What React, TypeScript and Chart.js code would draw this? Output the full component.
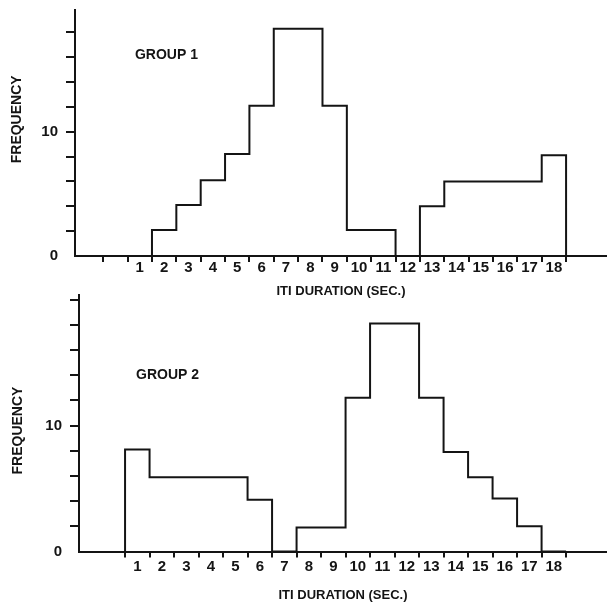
import React, { useEffect, useRef } from "react";
import { Chart, registerables } from "chart.js";

Chart.register(...registerables);

// ---- data ----
const binCenters = [1, 2, 3, 4, 5, 6, 7, 8, 9, 10, 11, 12, 13, 14, 15, 16, 17, 18];
const tickLabels = ["1", "2", "3", "4", "5", "6", "7", "8", "9", "10", "11", "12", "13", "14", "15", "16", "17", "18"];
const group1Freq = [0, 2.1, 4.1, 6.1, 8.2, 12.1, 18.3, 18.3, 12.1, 2.1, 2.1, 0, 4.0, 6.0, 6.0, 6.0, 6.0, 8.1];
const group2Freq = [8.1, 5.9, 5.9, 5.9, 5.9, 4.1, 0, 1.9, 1.9, 12.2, 18.1, 18.1, 12.2, 7.9, 5.9, 4.2, 2.0, 0];
const yLabeledTicks = [0, 10];
const yTickLabels = ["0", "10"];
const xTitle = "ITI DURATION (SEC.)";
const yTitle = "FREQUENCY";

const FONT = "'Liberation Sans', Arial, Helvetica, sans-serif";
const INK = "#141414";
const CLEAR = "rgba(0,0,0,0)";

function buildSteps(centers: number[], freq: number[]) {
  const pts: { x: number; y: number }[] = [];
  pts.push({ x: centers[0] - 0.5, y: 0 });
  centers.forEach((c, i) => pts.push({ x: c - 0.5, y: freq[i] }));
  pts.push({ x: centers[centers.length - 1] + 0.5, y: 0 });
  return pts;
}

interface Cfg {
  freq: number[];
  group: string;
  xMin: number;
  xMax: number;
  yMax: number;
  axisWidth: number;
  axisHeight: number;
  padTop: number;
  leadingTick: boolean;
  labelPad: number;
  titlePad: number;
  groupAt: [number, number];
  freqAtY: number;
  freqX: number;
}

function zeroPad(scale: any) {
  scale.paddingTop = 0;
  scale.paddingBottom = 0;
  scale.paddingLeft = 0;
  scale.paddingRight = 0;
}

function makeConfig(c: Cfg): any {
  const edges = binCenters.map((v) => v - 0.5).concat([binCenters[binCenters.length - 1] + 0.5]);
  if (c.leadingTick) edges.unshift(binCenters[0] - 1.5);
  const tickValues = edges.concat(binCenters).sort((a, b) => a - b);

  const annot = {
    id: "annot",
    afterDraw(chart: any) {
      const { ctx, scales } = chart;
      const x = scales.x;
      const y = scales.y;
      ctx.save();
      ctx.fillStyle = INK;
      ctx.font = `bold 14px ${FONT}`;
      ctx.textAlign = "left";
      ctx.textBaseline = "middle";
      ctx.fillText(c.group, x.getPixelForValue(c.groupAt[0]), y.getPixelForValue(c.groupAt[1]));
      ctx.translate(c.freqX, y.getPixelForValue(c.freqAtY));
      ctx.rotate(-Math.PI / 2);
      ctx.textAlign = "center";
      ctx.font = `bold 14px ${FONT}`;
      ctx.fillText(yTitle, 0, 0);
      ctx.restore();
    },
  };

  return {
    type: "line",
    data: {
      datasets: [
        {
          data: buildSteps(binCenters, c.freq),
          stepped: true,
          borderColor: INK,
          borderWidth: 2,
          pointRadius: 0,
          fill: false,
          tension: 0,
        },
      ],
    },
    options: {
      animation: false,
      responsive: false,
      devicePixelRatio: 1,
      layout: { padding: { top: c.padTop, left: 0, right: 0, bottom: 0 } },
      plugins: { legend: { display: false }, tooltip: { enabled: false } },
      scales: {
        x: {
          type: "linear",
          min: c.xMin,
          max: c.xMax,
          afterBuildTicks: (scale: any) => {
            scale.ticks = tickValues.map((v) => ({ value: v }));
          },
          afterFit: (scale: any) => {
            scale.height = c.axisHeight;
            zeroPad(scale);
          },
          grid: {
            drawOnChartArea: false,
            drawTicks: true,
            tickLength: 6,
            lineWidth: 2,
            tickWidth: 2,
            tickColor: (ctx: any) => (ctx.tick && Number.isInteger(ctx.tick.value) ? CLEAR : INK),
          },
          border: { display: true, color: INK, width: 2 },
          ticks: {
            autoSkip: false,
            maxRotation: 0,
            minRotation: 0,
            padding: c.labelPad,
            color: INK,
            font: { family: FONT, size: 15, weight: "bold" },
            callback: (value: number) => {
              const i = binCenters.indexOf(value);
              return i >= 0 ? tickLabels[i] : "";
            },
          },
          title: {
            display: true,
            text: xTitle,
            color: INK,
            font: { family: FONT, size: 13, weight: "bold" },
            padding: { top: 0, bottom: c.titlePad },
          },
        },
        y: {
          type: "linear",
          min: 0,
          max: c.yMax,
          afterFit: (scale: any) => {
            scale.width = c.axisWidth;
            zeroPad(scale);
          },
          grid: {
            drawOnChartArea: false,
            drawTicks: true,
            tickLength: 9,
            lineWidth: 2,
            tickWidth: 2,
            tickColor: (ctx: any) => (ctx.tick && ctx.tick.value === 0 ? CLEAR : INK),
          },
          border: { display: true, color: INK, width: 2 },
          ticks: {
            stepSize: 2,
            includeBounds: false,
            autoSkip: false,
            padding: 8,
            color: INK,
            font: { family: FONT, size: 15, weight: "bold" },
            callback: (value: number) => {
              const i = yLabeledTicks.indexOf(value);
              return i >= 0 ? yTickLabels[i] : "";
            },
          },
        },
      },
    },
    plugins: [annot],
  };
}

const topCfg: Cfg = {
  freq: group1Freq,
  group: "GROUP 1",
  xMin: -1.66,
  xMax: 20.18,
  yMax: 19.8,
  axisWidth: 75,
  axisHeight: 44,
  padTop: 10,
  leadingTick: true,
  labelPad: -3,
  titlePad: 1.2,
  groupAt: [0.8, 16.2],
  freqAtY: 11.0,
  freqX: 17,
};

const bottomCfg: Cfg = {
  freq: group2Freq,
  group: "GROUP 2",
  xMin: -1.38,
  xMax: 20.17,
  yMax: 20.36,
  axisWidth: 79,
  axisHeight: 53.5,
  padTop: 5,
  leadingTick: false,
  labelPad: 0.5,
  titlePad: 2.2,
  groupAt: [0.95, 14.0],
  freqAtY: 9.6,
  freqX: 18,
};

function Hist({ cfg, top, height }: { cfg: Cfg; top: number; height: number }) {
  const ref = useRef<HTMLCanvasElement>(null);
  useEffect(() => {
    if (!ref.current) return;
    const chart = new Chart(ref.current, makeConfig(cfg));
    return () => chart.destroy();
  }, [cfg]);
  return (
    <canvas
      ref={ref}
      width={607}
      height={height}
      style={{ position: "absolute", left: 0, top, width: 607, height }}
    />
  );
}

export default function App() {
  return (
    <div style={{ position: "absolute", left: 0, top: 0, width: 607, height: 605, background: "#fff", overflow: "hidden" }}>
      <Hist cfg={topCfg} top={0} height={300} />
      <Hist cfg={bottomCfg} top={290} height={315} />
    </div>
  );
}
